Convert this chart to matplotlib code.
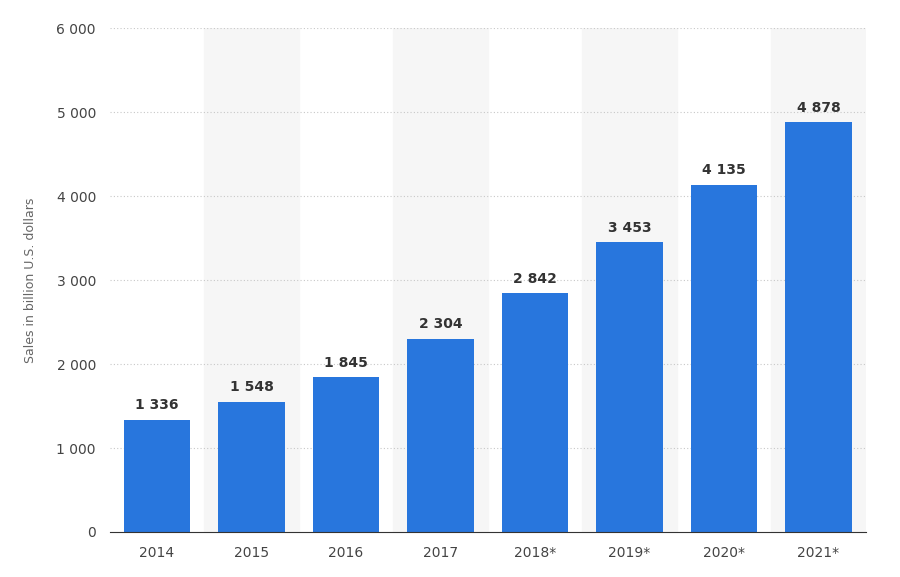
import matplotlib.pyplot as plt
import numpy as np

years = ["2014", "2015", "2016", "2017", "2018*", "2019*", "2020*", "2021*"]
sales = [1336, 1548, 1845, 2304, 2842, 3453, 4135, 4878]
y_ticks = [0, 1000, 2000, 3000, 4000, 5000, 6000]


def fmt(v):
    return "{:,}".format(v).replace(",", " ")


fig = plt.figure(figsize=(9, 5.77), dpi=100)
ax = fig.add_axes([0.122, 0.078, 0.84, 0.873])
x = np.arange(len(years))

# alternating column shading
for i in x:
    if i % 2 == 1:
        ax.axvspan(i - 0.5, i + 0.5, color="#f6f6f6", zorder=0)

for t in y_ticks[1:]:
    ax.axhline(t, color="#c8c8c8", linestyle=(0, (1, 2)), linewidth=0.8, zorder=1)

ax.bar(x, sales, width=0.7, color="#2876dd", zorder=2)
for xi, v in zip(x, sales):
    ax.text(xi, v + 90, fmt(v), ha="center", va="bottom", fontsize=10,
            fontweight="bold", color="#333333")

ax.set_xlim(-0.5, len(years) - 0.5)
ax.set_ylim(0, 6000)
ax.set_xticks(x)
ax.set_xticklabels(years)
ax.set_yticks(y_ticks)
ax.set_yticklabels([fmt(t) for t in y_ticks])
ax.tick_params(axis="both", length=0, labelsize=10, colors="#444444", pad=10)
ax.set_ylabel("Sales in billion U.S. dollars", fontsize=9, color="#666666", labelpad=14)

for s in ["top", "right", "left"]:
    ax.spines[s].set_visible(False)
ax.spines["bottom"].set_color("#333333")

fig.savefig("out.png", dpi=100)
